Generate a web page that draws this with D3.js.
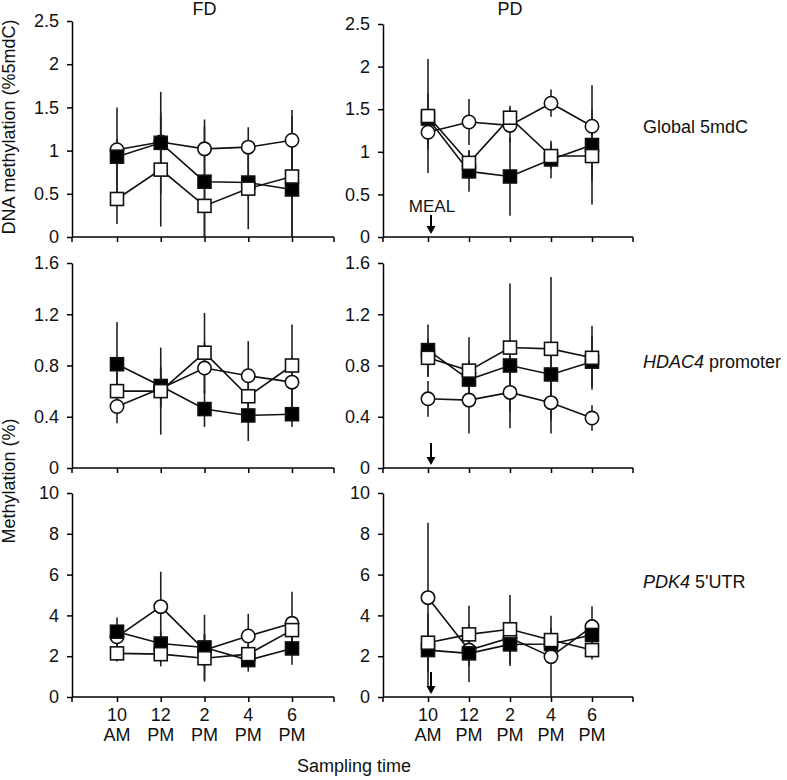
<!DOCTYPE html>
<html>
<head>
<meta charset="utf-8">
<script src="https://cdn.jsdelivr.net/npm/d3@7"></script>
<style>
  body { margin: 0; background: #fff; }
  text { font-family: Arial, "Liberation Sans", sans-serif; fill: #111; }
</style>
</head>
<body>
<svg id="fig" width="787" height="780"></svg>
<script>
// sampling times (two-line tick labels)
const times = [["10", "AM"], ["12", "PM"], ["2", "PM"], ["4", "PM"], ["6", "PM"]];
const groups = ["FD", "PD"];
// series order in every panel: open circle, filled square, open square
const markers = ["circle", "filled", "open"];

// Global 5mdC (%5mdC)
const globalFD   = [[1.01, 1.10, 1.02, 1.04, 1.12], [0.93, 1.09, 0.64, 0.63, 0.55], [0.44, 0.78, 0.36, 0.56, 0.70]];
const globalFDsd = [[0.49, 0.30, 0.34, 0.23, 0.35], [0.20, 0.59, 0.64, 0.20, 0.55], [0.29, 0.66, 0.36, 0.47, 0.70]];
const globalPD   = [[1.23, 1.35, 1.31, 1.57, 1.30], [1.39, 0.77, 0.71, 0.91, 1.08], [1.42, 0.87, 1.40, 0.95, 0.95]];
const globalPDsd = [[0.20, 0.27, 0.20, 0.16, 0.20], [0.30, 0.24, 0.46, 0.22, 0.70], [0.67, 0.15, 0.14, 0.15, 0.30]];

// HDAC4 promoter (%)
const hdacFD   = [[0.48, 0.62, 0.78, 0.72, 0.67], [0.81, 0.64, 0.46, 0.41, 0.42], [0.60, 0.60, 0.90, 0.56, 0.80]];
const hdacFDsd = [[0.13, 0.15, 0.20, 0.27, 0.20], [0.33, 0.15, 0.14, 0.20, 0.10], [0.15, 0.34, 0.31, 0.20, 0.32]];
const hdacPD   = [[0.54, 0.53, 0.59, 0.51, 0.39], [0.92, 0.69, 0.80, 0.73, 0.83], [0.86, 0.76, 0.94, 0.93, 0.86]];
const hdacPDsd = [[0.14, 0.26, 0.28, 0.24, 0.10], [0.20, 0.15, 0.20, 0.20, 0.20], [0.15, 0.26, 0.50, 0.56, 0.25]];

// PDK4 5'UTR (%)
const pdkFD   = [[2.95, 4.43, 2.30, 2.99, 3.61], [3.20, 2.62, 2.43, 1.81, 2.38], [2.14, 2.10, 1.90, 2.10, 3.28]];
const pdkFDsd = [[0.50, 1.71, 0.80, 1.09, 1.55], [0.70, 0.60, 1.60, 0.57, 0.80], [0.40, 0.60, 1.15, 0.50, 0.60]];
const pdkPD   = [[4.87, 2.30, 2.90, 1.98, 3.45], [2.30, 2.14, 2.58, 2.60, 3.04], [2.66, 3.07, 3.32, 2.79, 2.30]];
const pdkPDsd = [[3.67, 0.80, 0.80, 2.00, 1.00], [1.80, 1.40, 1.06, 0.60, 0.60], [0.50, 1.40, 1.68, 0.60, 0.46]];

const globalTicks = [0, 0.5, 1, 1.5, 2, 2.5];
const hdacTicks = [0, 0.4, 0.8, 1.2, 1.6];
const pdkTicks = [0, 2, 4, 6, 8, 10];

// layout
const cols = [
  { x0: 72, first: 117, last: 292, end: 334 },
  { x0: 383, first: 428, last: 592, end: 633 }
];
const rows = [
  { ticks: globalTicks, fmt: d3.format("~g"), base: 237, tops: [21, 24], data: [[globalFD, globalFDsd], [globalPD, globalPDsd]],
    label: [["Global 5mdC", false]], labelY: 133 },
  { ticks: hdacTicks, fmt: d3.format(".1f"), base: 468, tops: [263, 263], data: [[hdacFD, hdacFDsd], [hdacPD, hdacPDsd]],
    label: [["HDAC4", true], [" promoter", false]], labelY: 368 },
  { ticks: pdkTicks, fmt: d3.format("d"), base: 697, tops: [493, 493], data: [[pdkFD, pdkFDsd], [pdkPD, pdkPDsd]],
    label: [["PDK4", true], [" 5'UTR", false]], labelY: 588 }
];

const svg = d3.select("#fig");
const fs = 18;

rows.forEach((row, ri) => {
  cols.forEach((col, ci) => {
    const x = d3.scaleLinear().domain([1, 5]).range([col.first, col.last]);
    const y = d3.scaleLinear().domain([0, d3.max(row.ticks)]).range([row.base, row.tops[ci]]);
    const g = svg.append("g");

    // y axis
    const ya = g.append("g").attr("transform", `translate(${col.x0},0)`)
      .call(d3.axisLeft(y).tickValues(row.ticks).tickFormat(d => d === 0 ? "0" : row.fmt(d)).tickSize(5).tickSizeOuter(0).tickPadding(8));
    ya.select(".domain").attr("stroke-width", 1.5);
    ya.selectAll(".tick line").attr("stroke-width", 1.5);
    ya.selectAll(".tick text").style("font-size", fs + "px").attr("fill", "#111");

    // x axis
    g.append("line").attr("x1", col.x0).attr("x2", col.end).attr("y1", row.base).attr("y2", row.base)
      .attr("stroke", "#000").attr("stroke-width", 1.5);
    const xa = g.append("g").attr("transform", `translate(0,${row.base})`)
      .call(d3.axisBottom(x).tickValues([1, 2, 3, 4, 5]).tickFormat("").tickSize(5));
    xa.select(".domain").remove();
    xa.selectAll(".tick line").attr("stroke-width", 1.5);
    [col.x0, col.end].forEach(px => g.append("line").attr("x1", px).attr("x2", px)
      .attr("y1", row.base).attr("y2", row.base + 5).attr("stroke", "#000").attr("stroke-width", 1.5));

    if (ri === 2) {
      times.forEach((t, i) => {
        const tx = g.append("text").attr("x", x(i + 1)).attr("text-anchor", "middle").style("font-size", fs + "px");
        tx.append("tspan").attr("x", x(i + 1)).attr("y", row.base + 24).text(t[0]);
        tx.append("tspan").attr("x", x(i + 1)).attr("y", row.base + 44).text(t[1]);
      });
    }

    const [means, sds] = row.data[ci];

    // error bars
    means.forEach((ser, si) => {
      ser.forEach((m, i) => {
        const sd = sds[si][i];
        g.append("line").attr("x1", x(i + 1)).attr("x2", x(i + 1))
          .attr("y1", y(Math.max(0, m - sd))).attr("y2", y(m + sd))
          .attr("stroke", "#222").attr("stroke-width", 1.6);
      });
    });

    // lines and markers
    const line = d3.line().x((d, i) => x(i + 1)).y(d => y(d));
    means.forEach((ser, si) => {
      g.append("path").attr("d", line(ser)).attr("fill", "none").attr("stroke", "#111").attr("stroke-width", 1.6);
    });
    means.forEach((ser, si) => {
      const type = markers[si];
      ser.forEach((m, i) => {
        if (type === "circle") {
          g.append("circle").attr("cx", x(i + 1)).attr("cy", y(m)).attr("r", 6.7)
            .attr("fill", "#fff").attr("stroke", "#111").attr("stroke-width", 1.6);
        } else {
          g.append("rect").attr("x", x(i + 1) - 6.5).attr("y", y(m) - 6.5).attr("width", 13).attr("height", 13)
            .attr("fill", type === "filled" ? "#000" : "#fff").attr("stroke", "#111").attr("stroke-width", 1.6);
        }
      });
    });

    // meal arrow in PD panels
    if (ci === 1) {
      const ax = x(1) + 3;
      const ay1 = ri === 0 ? 215 : row.base - 25;
      g.append("line").attr("x1", ax).attr("x2", ax).attr("y1", ay1).attr("y2", row.base - 8)
        .attr("stroke", "#000").attr("stroke-width", 2);
      g.append("path").attr("d", `M${ax - 4.5},${row.base - 11}L${ax + 4.5},${row.base - 11}L${ax},${row.base - 3}Z`).attr("fill", "#000");
      if (ri === 0) {
        g.append("text").attr("x", ax + 1).attr("y", 212).attr("text-anchor", "middle").style("font-size", "17px").text("MEAL");
      }
    }
  });

  // row label on the right
  const lt = svg.append("text").attr("x", 643).attr("y", row.labelY).style("font-size", fs + "px");
  row.label.forEach(([s, it]) => lt.append("tspan").style("font-style", it ? "italic" : "normal").text(s));
});

// column titles
groups.forEach((gname, ci) => {
  const x = d3.scaleLinear().domain([1, 5]).range([cols[ci].first, cols[ci].last]);
  svg.append("text").attr("x", x(3)).attr("y", 15).attr("text-anchor", "middle").style("font-size", fs + "px").text(gname);
});

// axis titles
svg.append("text").attr("transform", "translate(15,127) rotate(-90)").attr("text-anchor", "middle")
  .style("font-size", fs + "px").text("DNA methylation (%5mdC)");
svg.append("text").attr("transform", "translate(15,481) rotate(-90)").attr("text-anchor", "middle")
  .style("font-size", fs + "px").text("Methylation (%)");
svg.append("text").attr("x", 354).attr("y", 772).attr("text-anchor", "middle")
  .style("font-size", fs + "px").text("Sampling time");
</script>
</body>
</html>
